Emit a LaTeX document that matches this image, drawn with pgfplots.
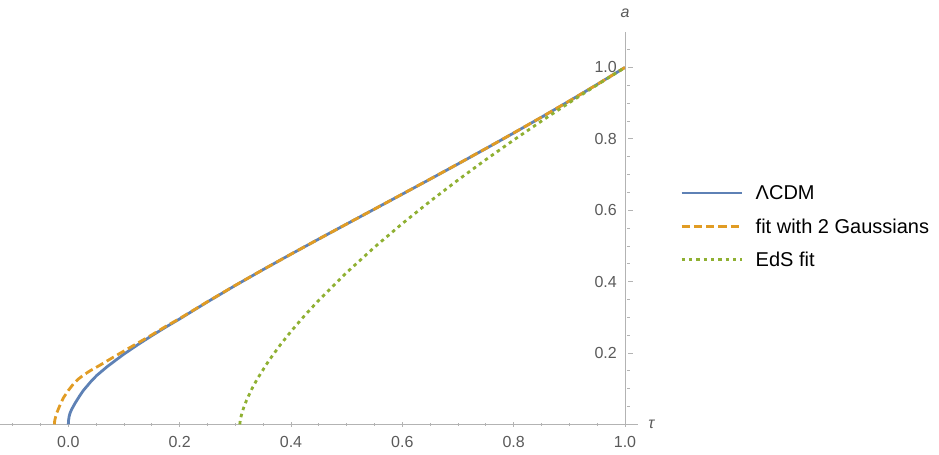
\documentclass[border=0pt]{standalone}
\usepackage{pgfplots}
\pgfplotsset{compat=1.18}
\usepackage{fontspec}
\setmainfont{Liberation Sans}
\definecolor{mblue}{RGB}{94,129,181}
\definecolor{morange}{RGB}{225,156,36}
\definecolor{mgreen}{RGB}{143,176,50}
\definecolor{axcol}{RGB}{179,179,179}
\definecolor{labcol}{RGB}{90,90,90}
\begin{document}
\begin{tikzpicture}
\begin{axis}[
  scale only axis, width=468.75pt, height=294.5pt,
  xmin=-0.1227, xmax=1.0, ymin=0, ymax=1.1,
  axis x line=bottom, axis y line=right,
  axis line style={draw=axcol, line width=0.6pt, -},
  x axis line style={shorten >=-9.5pt},
  xtick={0,0.2,0.4,0.6,0.8,1},
  ytick={0.2,0.4,0.6,0.8,1},
  minor xtick={-0.1,-0.05,0.05,0.1,0.15,0.25,0.3,0.35,0.45,0.5,0.55,0.65,0.7,0.75,0.85,0.9,0.95},
  minor ytick={0.05,0.1,0.15,0.25,0.3,0.35,0.45,0.5,0.55,0.65,0.7,0.75,0.85,0.9,0.95,1.05},
  tick style={draw=axcol, line width=0.6pt},
  major tick length=3.75pt, minor tick length=2.25pt,
  every major y tick/.append style={xshift=3.75pt},
  every minor y tick/.append style={xshift=2.25pt},
  /pgf/number format/.cd, fixed, fixed zerofill, precision=1, assume math mode=true, /pgfplots/.cd,
  ticklabel style={font=\fontsize{12}{14}\selectfont, text=labcol},
  xticklabel style={anchor=base, yshift=-15.5pt},
  yticklabel style={anchor=east, xshift=-4.5pt},
  xlabel={\textit{τ}}, ylabel={\textit{a}},
  every axis x label/.style={at={(rel axis cs:1,0)}, anchor=center, xshift=20pt, font=\fontsize{12}{14}\selectfont, text=labcol},
  every axis y label/.style={at={(rel axis cs:1,1)}, anchor=center, yshift=14pt, font=\fontsize{12}{14}\selectfont, text=labcol},
  legend style={draw=none, fill=none, at={(axis cs:1,0.555)}, anchor=west, xshift=41.25pt, inner sep=0pt,
    nodes={inner sep=0pt, text height=10.5pt, text depth=0pt, font=\fontsize{15}{17}\selectfont},
    column sep=9.5pt, row sep=14.5pt},
  legend cell align=left,
  legend image code/.code={\draw[#1] (0pt,0pt) -- (45pt,0pt);},
]
\addplot[mblue, line width=2.1pt] coordinates {
(0,0) (0.0005,0.012) (0.0015,0.022) (0.003,0.031) (0.006,0.042) (0.012,0.059) (0.02,0.079)
(0.027,0.095) (0.04,0.119) (0.051,0.137) (0.07,0.162) (0.087,0.182) (0.1,0.197) (0.125,0.2235)
(0.15,0.2485) (0.175,0.2725) (0.2,0.2955) (0.25,0.3432) (0.3,0.3893) (0.35,0.4337) (0.4,0.4769) (0.45,0.5194)
(0.5,0.5614) (0.55,0.6032) (0.6,0.6451) (0.65,0.6871) (0.7,0.7296) (0.75,0.7726) (0.8,0.8162)
(0.85,0.8606) (0.9,0.9060) (0.95,0.9524) (1,1)};
\addlegendentry{ΛCDM}
\addplot[morange, line width=2.1pt, dash pattern=on 6.2pt off 3pt] coordinates {
(-0.025,0) (-0.0245,0.01) (-0.023,0.02) (-0.021,0.031) (-0.016,0.05) (-0.009,0.074) (0,0.095)
(0.009,0.113) (0.018,0.127) (0.027,0.138) (0.04,0.151) (0.057,0.166) (0.072,0.180) (0.087,0.194)
(0.1,0.2055) (0.117,0.221) (0.147,0.248) (0.175,0.2745) (0.2,0.2965) (0.25,0.3438) (0.3,0.3896)
(0.35,0.4337) (0.4,0.4769) (0.45,0.5194) (0.5,0.5614) (0.55,0.6032) (0.6,0.6452) (0.65,0.6873)
(0.7,0.7298) (0.75,0.7728) (0.8,0.8164) (0.85,0.8608) (0.9,0.9061) (0.95,0.9524) (1,1)};
\addlegendentry{fit with 2 Gaussians}
\addplot[mgreen, line width=2.1pt, dash pattern=on 2.6pt off 2.9pt] coordinates {
(0.308,0) (0.309,0.0128) (0.31,0.0203) (0.3125,0.0348) (0.315,0.0468) (0.32,0.0670) (0.33,0.1004)
(0.34,0.1288) (0.36,0.1781) (0.38,0.2212) (0.4,0.2605) (0.425,0.3058) (0.45,0.3479) (0.5,0.4254)
(0.55,0.4964) (0.6,0.5626) (0.65,0.6251) (0.7,0.6846) (0.75,0.7417) (0.8,0.7966) (0.85,0.8497)
(0.9,0.9012) (0.95,0.9512) (1,1)};
\addlegendentry{EdS fit}
\coordinate (SW) at (rel axis cs:0,0);
\coordinate (NE) at (rel axis cs:1,1);
\end{axis}
\pgfresetboundingbox
\path[use as bounding box] ([yshift=-22.3pt]SW) rectangle ([xshift=235.5pt,yshift=23.8pt]NE);
\end{tikzpicture}
\end{document}
